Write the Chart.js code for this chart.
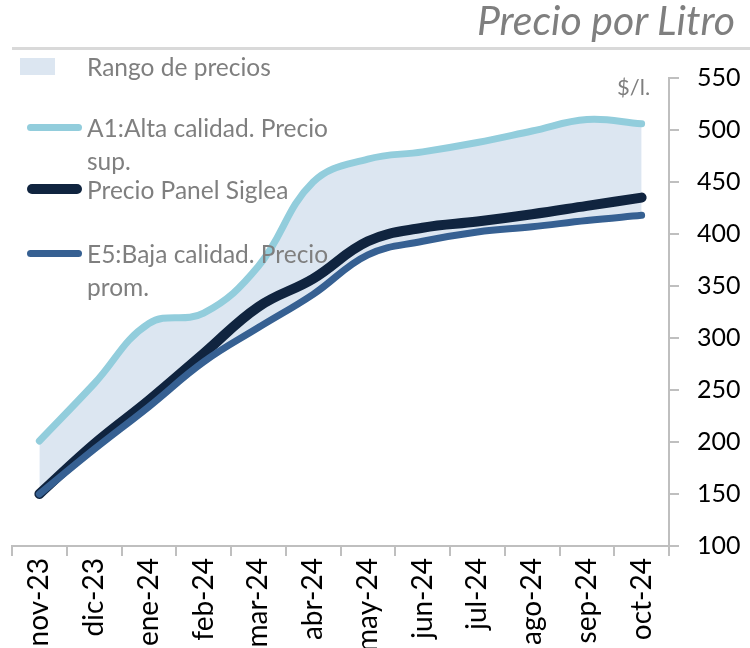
<!DOCTYPE html>
<html>
<head>
<meta charset="utf-8">
<script src="https://cdn.jsdelivr.net/npm/chart.js@4.4.0/dist/chart.umd.min.js"></script>
<style>
  body { margin:0; background:#fff; }
  #wrap { position:relative; width:750px; height:648px; overflow:hidden; }
  #myChart { position:absolute; left:0; top:0; }
  #titulo { position:absolute; right:15px; top:-5px; font-family:Lato, sans-serif; font-style:italic; font-size:41px; color:#7f7f7f; }
  #linea { position:absolute; left:12px; top:47px; width:738px; height:3px; background:#d9d9d9; }
  #unidad { position:absolute; left:617px; top:73px; font-family:Lato, sans-serif; font-size:22px; color:#7f7f7f; }
  .leyenda { position:absolute; left:87px; width:250px; font-family:Lato, sans-serif; font-size:24.5px; line-height:33px; color:#7f7f7f; }
  .marca { position:absolute; }
</style>
</head>
<body>
<div id="wrap">
  <canvas id="myChart" width="750" height="648"></canvas>
  <div id="titulo">Precio por Litro</div>
  <div id="linea"></div>
  <div id="unidad">$/l.</div>
  <div id="leyendas"></div>
</div>
<script>
var meses = ["nov-23","dic-23","ene-24","feb-24","mar-24","abr-24","may-24","jun-24","jul-24","ago-24","sep-24","oct-24"];
var altaCalidad = [201, 256, 314, 324, 369, 450, 472, 479, 488, 499, 510, 506];
var panelSiglea = [150, 198, 240, 285, 330, 357, 393, 406, 412, 419, 427, 435];
var bajaCalidad = [150, 193, 234, 277, 310, 342, 380, 393, 402, 407, 413, 418];
var nombres = ["Rango de precios", "A1:Alta calidad. Precio sup.", "Precio Panel Siglea", "E5:Baja calidad. Precio prom."];
var colores = ["#dce6f1", "#92cddc", "#10243f", "#366092"];
var grosores = [0, 7, 10, 7];

function leyenda() {
    var caja = document.getElementById("leyendas");
    var tops = [50, 111, 173, 237];
    for (var i=0;i<nombres.length;i++) {
        var m = document.createElement("div");
        m.className = "marca";
        if (i==0) {
            m.style.left = "20px"; m.style.top = (tops[i]+8)+"px";
            m.style.width = "35px"; m.style.height = "17px";
        } else {
            m.style.left = "27px"; m.style.top = (tops[i]+16-grosores[i]/2)+"px";
            m.style.width = "55px"; m.style.height = grosores[i]+"px";
            m.style.borderRadius = grosores[i]+"px";
        }
        m.style.background = colores[i];
        caja.appendChild(m);
        var t = document.createElement("div");
        t.className = "leyenda";
        t.style.top = tops[i]+"px";
        t.innerHTML = nombres[i];
        caja.appendChild(t);
    }
}

function wykres() {
    var ctx = document.getElementById('myChart').getContext('2d');
    window.grafico = new Chart(ctx, {
        type: 'line',
        data: {
            labels: meses,
            datasets: [
                { label: nombres[0], data: altaCalidad, borderWidth: 0, pointRadius: 0, backgroundColor: colores[0], fill: 3, order: 4, tension: 0.4 },
                { label: nombres[1], data: altaCalidad, borderColor: colores[1], borderWidth: grosores[1], pointRadius: 0, fill: false, order: 3, tension: 0.4, borderCapStyle: 'round' },
                { label: nombres[2], data: panelSiglea, borderColor: colores[2], borderWidth: grosores[2], pointRadius: 0, fill: false, order: 2, tension: 0.4, borderCapStyle: 'round' },
                { label: nombres[3], data: bajaCalidad, borderColor: colores[3], borderWidth: grosores[3], pointRadius: 0, fill: false, order: 1, tension: 0.4, borderCapStyle: 'round' }
            ]
        },
        options: {
            responsive: false,
            animation: false,
            layout: { padding: { top: 78, left: 12, right: 0, bottom: 0 } },
            plugins: { legend: { display: false }, tooltip: { enabled: false } },
            scales: {
                x: {
                    offset: true,
                    grid: { drawOnChartArea: false, offset: true, tickLength: 10, color: '#bfbfbf', lineWidth: 2 },
                    border: { color: '#bfbfbf', width: 2 },
                    ticks: { minRotation: 90, maxRotation: 90, color: '#000', font: { family: 'Lato', size: 28 }, padding: 2 },
                    afterFit: function(s) { s.height = 102; }
                },
                y: {
                    position: 'right',
                    min: 100, max: 550,
                    grid: { drawOnChartArea: false, tickLength: 10, color: '#bfbfbf', lineWidth: 2 },
                    border: { color: '#bfbfbf', width: 2 },
                    ticks: { stepSize: 50, color: '#000', font: { family: 'Lato', size: 25 }, padding: 18 },
                    afterFit: function(s) { s.width = 81; }
                }
            }
        }
    });
}

leyenda();
wykres();
</script>
</body>
</html>
